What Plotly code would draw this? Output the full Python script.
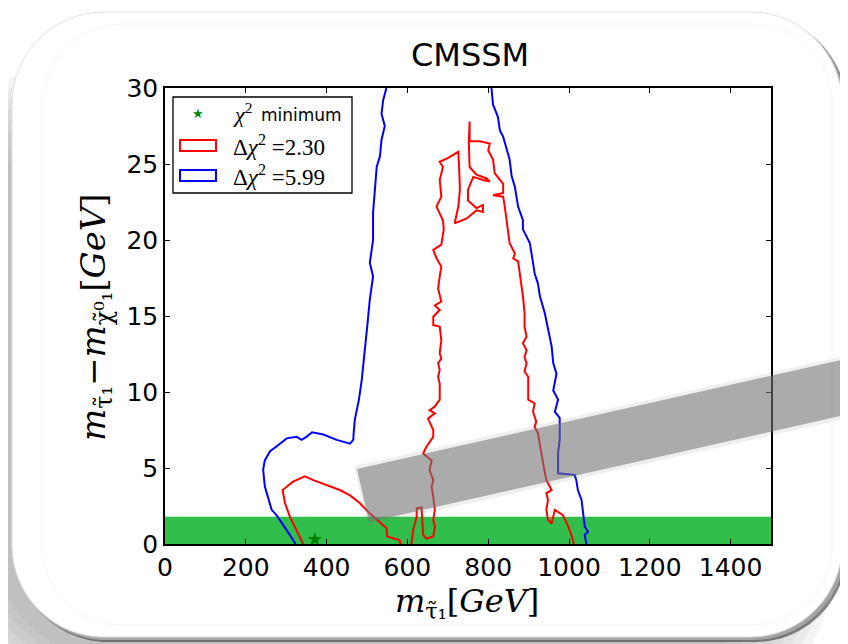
import plotly.graph_objects as go

# ---------------- data ----------------
title_text = "CMSSM"
x_tick_vals = [0, 200, 400, 600, 800, 1000, 1200, 1400]
y_tick_vals = [0, 5, 10, 15, 20, 25, 30]
x_range = [0, 1500]
y_range = [0, 30]

band_y = [0.0, 1.8]          # green band (lower bound of the mass difference)

chi2_min_x = [371]
chi2_min_y = [0.3]

blue_left_x = [548, 540, 536, 544, 536, 532, 524, 519, 515, 515,
               507, 515, 507, 502, 497, 492, 487, 480, 475, 470,
               467, 466, 458, 425, 392, 364, 350, 338, 326, 301,
               280, 260, 247, 243, 247, 256, 264, 276, 293, 309, 323]
blue_left_y = [30.0, 29.2, 28.3, 27.5, 26.6, 25.5, 24.8, 23.3, 21.8, 20.0,
               18.5, 17.6, 16.1, 14.7, 13.4, 12.1, 10.8, 9.5, 8.8, 8.2,
               7.3, 6.85, 6.6, 6.85, 7.2, 7.35, 7.05, 6.85, 7.05, 6.95,
               6.5, 6.1, 5.5, 4.9, 3.8, 2.9, 2.25, 1.9, 1.25, 0.6, 0.0]

blue_right_x = [808, 812, 824, 829, 837, 845, 853, 858, 866, 874,
                886, 886, 903, 911, 915, 923, 928, 940, 948, 957,
                961, 969, 961, 973, 965, 977, 977, 973, 973, 1014,
                1018, 1022, 1031, 1035, 1039, 1047, 1039, 1043]
blue_right_y = [30.0, 28.9, 28.1, 27.2, 26.8, 26.1, 25.3, 24.2, 23.5, 22.2,
                21.3, 20.7, 19.8, 18.5, 17.8, 17.15, 16.3, 15.2, 14.1, 13.0,
                11.9, 11.2, 10.1, 9.5, 8.7, 8.3, 6.85, 6.0, 4.65, 4.55,
                4.2, 3.55, 2.9, 2.0, 1.15, 0.8, 0.6, 0.0]

red_main_x = [1012, 1006, 998, 985, 965, 957, 948, 944, 948, 944,
              957, 944, 936, 928, 923, 915, 919, 911, 915, 899,
              899, 890, 895, 890, 895, 886, 895, 890, 890, 886,
              878, 874, 862, 866, 853, 849, 841, 837, 812, 837,
              837, 816, 812, 800, 804, 779, 754, 754, 752, 754,
              771, 796, 804, 787, 763, 750, 750, 771, 787, 787,
              771, 746, 717, 726, 730, 728, 726, 701, 680, 688,
              680, 684, 672, 688, 690, 684, 664, 672, 684, 680,
              676, 684, 668, 680, 664, 664, 680, 684, 680, 684,
              676, 680, 676, 680, 680, 668, 655, 668, 651, 664,
              664, 647, 639, 660, 655, 664, 660, 664, 668, 664,
              668, 664, 647, 639, 637, 635, 623, 623, 614, 610]
red_main_y = [0.0, 0.6, 1.15, 1.9, 2.25, 1.35, 1.6, 2.25, 2.9, 3.35,
              3.55, 4.2, 5.3, 6.4, 7.3, 7.7, 8.05, 8.7, 9.25, 9.5,
              11.0, 11.35, 11.9, 12.3, 12.75, 13.2, 13.65, 14.3, 15.2, 16.3,
              17.8, 18.6, 18.8, 19.1, 19.8, 20.7, 22.2, 22.85, 22.95, 23.1,
              23.7, 24.4, 25.3, 25.9, 26.35, 26.5, 26.5, 27.8, 26.4, 24.8,
              24.3, 24.05, 23.85, 23.95, 24.15, 23.3, 22.6, 22.1, 22.3, 21.85,
              21.95, 21.4, 21.1, 22.2, 23.3, 24.8, 25.8, 25.4, 25.15, 24.8,
              23.95, 22.85, 22.2, 21.3, 20.7, 19.7, 19.35, 18.8, 18.25, 17.6,
              16.8, 15.95, 15.7, 15.4, 14.95, 14.4, 14.3, 13.4, 12.55, 12.2,
              11.9, 11.45, 11.0, 10.55, 9.5, 9.05, 8.8, 8.6, 8.25, 7.5,
              7.05, 6.4, 5.95, 5.5, 4.85, 4.2, 3.75, 3.1, 2.25, 1.6,
              1.15, 0.5, 0.35, 0.6, 1.6, 2.4, 2.35, 1.8, 0.9, 0.0]

red_loop_x = [342, 326, 309, 297, 293, 291, 317, 346, 367, 400,
              433, 458, 482, 507, 532, 548, 550, 581, 583]
red_loop_y = [0.0, 0.9, 1.8, 2.7, 3.45, 3.55, 4.1, 4.45, 4.2, 3.9,
              3.55, 3.2, 2.7, 2.0, 1.45, 1.05, 0.5, 0.25, 0.0]

legend_min_word = "minimum"
legend_red_value = "2.30"
legend_blue_value = "5.99"

# ---------------- layout geometry ----------------
# the page places the figure at an 8 px offset; page pixel coordinates are used below
OFF = 8
W, H = 848 - OFF, 644 - OFF
L, R, T, B = 165, 771, 88, 544      # plot area in page pixels


def PX(px):
    return (px - L) / (R - L)


def PY(py):
    return (B - py) / (B - T)


def rrect_path(x0, y0, x1, y1, r):
    k = 0.5523 * r
    pts = [f"M{PX(x0 + r)},{PY(y0)}",
           f"L{PX(x1 - r)},{PY(y0)}",
           f"C{PX(x1 - r + k)},{PY(y0)} {PX(x1)},{PY(y0 + r - k)} {PX(x1)},{PY(y0 + r)}",
           f"L{PX(x1)},{PY(y1 - r)}",
           f"C{PX(x1)},{PY(y1 - r + k)} {PX(x1 - r + k)},{PY(y1)} {PX(x1 - r)},{PY(y1)}",
           f"L{PX(x0 + r)},{PY(y1)}",
           f"C{PX(x0 + r - k)},{PY(y1)} {PX(x0)},{PY(y1 - r + k)} {PX(x0)},{PY(y1 - r)}",
           f"L{PX(x0)},{PY(y0 + r)}",
           f"C{PX(x0)},{PY(y0 + r - k)} {PX(x0 + r - k)},{PY(y0)} {PX(x0 + r)},{PY(y0)}",
           "Z"]
    return " ".join(pts)


def poly_path(pts):
    return "M" + " L".join(f"{PX(a)},{PY(b)}" for a, b in pts) + " Z"


shapes = []
# soft drop shadow of the frame (towards the lower left)
for i in range(8):
    g = 6 * i
    shapes.append(dict(type="path", xref="paper", yref="paper", layer="below",
                       path=rrect_path(-50 + g, 62 + g, 830 - g, 700 - g, 120),
                       fillcolor="rgba(140,140,140,0.085)", line=dict(width=0)))
# bevel on the right / bottom edge
shapes.append(dict(type="path", xref="paper", yref="paper", layer="below",
                   path=rrect_path(16, 16, 847, 642, 92),
                   fillcolor="rgba(80,80,80,0.7)", line=dict(width=0)))
shapes.append(dict(type="path", xref="paper", yref="paper", layer="below",
                   path=rrect_path(14, 14, 845, 640, 92),
                   fillcolor="rgb(165,165,165)", line=dict(width=0)))
# white frame
shapes.append(dict(type="path", xref="paper", yref="paper", layer="below",
                   path=rrect_path(12, 12, 842, 637, 92),
                   fillcolor="white", line=dict(color="rgb(225,225,225)", width=1)))
shapes.append(dict(type="path", xref="paper", yref="paper", layer="below",
                   path=rrect_path(42, 24, 832, 625, 80),
                   fillcolor="rgba(0,0,0,0)", line=dict(color="rgb(246,246,246)", width=1)))

# green band
shapes.append(dict(type="rect", xref="x", yref="y", layer="below",
                   x0=x_range[0], x1=x_range[1], y0=band_y[0], y1=band_y[1],
                   fillcolor="rgb(50,190,75)", line=dict(width=0)))

# legend box and patches
shapes.append(dict(type="rect", xref="paper", yref="paper", layer="above",
                   x0=PX(173), x1=PX(352), y0=PY(97), y1=PY(193),
                   fillcolor="white", line=dict(color="black", width=1.3)))
shapes.append(dict(type="rect", xref="paper", yref="paper", layer="above",
                   x0=PX(180), x1=PX(216), y0=PY(140), y1=PY(151),
                   fillcolor="white", line=dict(color="red", width=2)))
shapes.append(dict(type="rect", xref="paper", yref="paper", layer="above",
                   x0=PX(180), x1=PX(216), y0=PY(170), y1=PY(181),
                   fillcolor="white", line=dict(color="blue", width=2)))

# grey slanted bar (decoration) with soft edge
shapes.append(dict(type="path", xref="paper", yref="paper", layer="above",
                   path=poly_path([(354, 466), (885, 347), (885, 410), (368, 526)]),
                   fillcolor="rgba(120,120,120,0.12)", line=dict(width=0)))
shapes.append(dict(type="path", xref="paper", yref="paper", layer="above",
                   path=poly_path([(357, 469), (885, 350), (885, 406), (369, 522)]),
                   fillcolor="rgba(115,115,115,0.55)", line=dict(width=0)))

fig = go.Figure()

line_w = 2.0
for xs, ys, col in [(blue_left_x, blue_left_y, "blue"), (blue_right_x, blue_right_y, "blue"),
                    (red_main_x, red_main_y, "red"), (red_loop_x, red_loop_y, "red")]:
    fig.add_trace(go.Scatter(x=xs, y=ys, mode="lines",
                             line=dict(color=col, width=line_w), showlegend=False,
                             hoverinfo="skip"))
fig.add_trace(go.Scatter(x=chi2_min_x, y=chi2_min_y, mode="markers",
                         marker=dict(symbol="star", color="green", size=11,
                                     line=dict(width=0)),
                         showlegend=False, hoverinfo="skip", cliponaxis=False))

serif = "DejaVu Serif"
lserif = "Liberation Serif"
sans = "DejaVu Sans"

annotations = [
    dict(text=title_text, x=PX(470), y=PY(55), xref="paper", yref="paper",
         showarrow=False, xanchor="center", yanchor="middle",
         font=dict(family=sans, size=32, color="black")),
    # x-axis title
    dict(text="<i>m</i><sub>\u03c4\u0303\u2081</sub>[<i>GeV</i>]",
         x=PX(467), y=PY(603), xref="paper", yref="paper", showarrow=False,
         xanchor="center", yanchor="middle",
         font=dict(family=serif, size=32, color="black")),
    # y-axis title
    dict(text="<i>m</i><sub>\u03c4\u0303\u2081</sub>\u2212<i>m</i><sub>\u03c7\u0303\u2070\u2081</sub>[<i>GeV</i>]",
         x=PX(95), y=PY(317), xref="paper", yref="paper", showarrow=False,
         xanchor="center", yanchor="middle", textangle=-90,
         font=dict(family=serif, size=34, color="black")),
    # legend entries
    dict(text="\u2605", x=PX(198), y=PY(114), xref="paper", yref="paper",
         showarrow=False, xanchor="center", yanchor="middle",
         font=dict(family=sans, size=13, color="green")),
    dict(text="<i>\u03c7</i><sup>2</sup>", x=PX(231), y=PY(113), xref="paper", yref="paper",
         showarrow=False, xanchor="left", yanchor="middle",
         font=dict(family=lserif, size=22, color="black")),
    dict(text=legend_min_word, x=PX(259), y=PY(115), xref="paper", yref="paper",
         showarrow=False, xanchor="left", yanchor="middle",
         font=dict(family=sans, size=17, color="black")),
    dict(text="\u0394<i>\u03c7</i><sup>2</sup> =" + legend_red_value, x=PX(231), y=PY(145),
         xref="paper", yref="paper", showarrow=False, xanchor="left", yanchor="middle",
         font=dict(family=lserif, size=23, color="black")),
    dict(text="\u0394<i>\u03c7</i><sup>2</sup> =" + legend_blue_value, x=PX(231), y=PY(175),
         xref="paper", yref="paper", showarrow=False, xanchor="left", yanchor="middle",
         font=dict(family=lserif, size=23, color="black")),
]

axis_common = dict(showgrid=False, zeroline=False, showline=True, linecolor="black",
                   linewidth=1.6, mirror="ticks", ticks="inside", ticklen=5,
                   tickwidth=1, tickcolor="black",
                   tickfont=dict(family=sans, size=25, color="black"))

fig.update_layout(
    width=W, height=H, autosize=False,
    margin=dict(l=L - OFF, r=(W + OFF) - R, t=T - OFF, b=(H + OFF) - B, pad=0),
    paper_bgcolor="white", plot_bgcolor="rgba(0,0,0,0)",
    xaxis=dict(range=x_range, tickvals=x_tick_vals,
               ticktext=[str(v) for v in x_tick_vals], **axis_common),
    yaxis=dict(range=y_range, tickvals=y_tick_vals,
               ticktext=[str(v) for v in y_tick_vals], **axis_common),
    shapes=shapes, annotations=annotations, showlegend=False,
)

fig.write_html("out.html")
